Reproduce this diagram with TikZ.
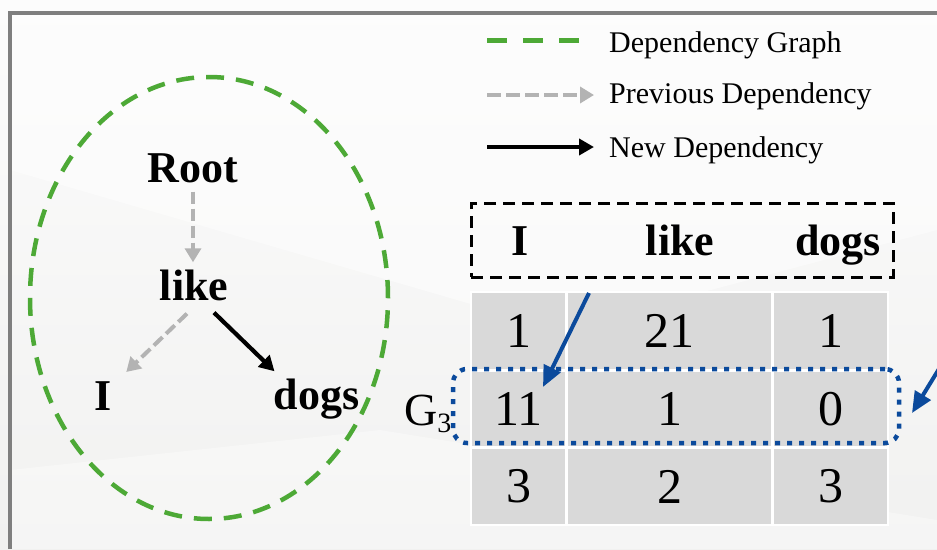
\documentclass[tikz,border=0pt]{standalone}
\usepackage{fontspec}
\setmainfont{Liberation Serif}
\usetikzlibrary{arrows.meta}

\definecolor{dgreen}{HTML}{4DA936}
\definecolor{pgray}{HTML}{B3B3B3}
\definecolor{cellgray}{HTML}{D9D9D9}
\definecolor{dblue}{HTML}{0B4A9C}
\definecolor{framegray}{HTML}{7F7F7F}
\definecolor{bgtop}{HTML}{FCFCFC}
\definecolor{bgbot}{HTML}{F1F1F0}

\begin{document}
\begin{tikzpicture}[x=1pt,y=-1pt,
  word/.style={font=\fontsize{44}{44}\selectfont\bfseries, inner sep=0pt, anchor=base},
  legendtxt/.style={font=\fontsize{30}{30}\selectfont, inner sep=0pt, anchor=base west},
  prevdep/.style={pgray, line width=4pt, dash pattern=on 12pt off 5pt,
    -{Triangle[length=14pt,width=16pt]}},
  newdep/.style={black, line width=4.2pt, -{Triangle[length=15pt,width=16pt]}},
  graphline/.style={dgreen, line width=4.5pt, dash pattern=on 18pt off 12pt},
  cell/.style={rectangle, fill=cellgray, inner sep=0pt,
    font=\fontsize{50}{50}\selectfont},
  pointer/.style={dblue, line width=4pt, -{Triangle[length=21pt,width=18pt]}},
  hdrbox/.style={draw=black, line width=3pt, dash pattern=on 12pt off 7pt,
    minimum width=422pt, minimum height=74pt, inner sep=0pt},
  rowbox/.style={draw=dblue, line width=4.5pt, dash pattern=on 5pt off 7pt,
    rounded corners=14pt, minimum width=446pt, minimum height=74pt, inner sep=0pt},
]
\useasboundingbox (0,0) rectangle (937,549);
\begin{scope}
\clip (0,0) rectangle (937,549);

% background
\shade[top color=bgtop, bottom color=bgbot] (0,0) rectangle (937,549);
\fill[white, opacity=0.45] (10,13) -- (937,13) -- (937,230) -- (560,330) -- (10,170) -- cycle;
\fill[white, opacity=0.35] (10,470) -- (380,430) -- (937,520) -- (937,549) -- (10,549) -- cycle;

% frame
\draw[framegray, line width=4pt] (10,549) -- (10,13) -- (937,13);

% dependency graph
\draw[graphline] (209,298) ellipse [x radius=179pt, y radius=221pt];

\node[word] (root) at (193,182) {Root};
\node[word] (like) at (194,300) {like};
\node[word] (wi)   at (103.5,410) {I};
\node[word] (dogs) at (316.5,409) {dogs};

\draw[prevdep] ([shift={(0,9)}]root.south) -- ([shift={(0,-7)}]root.south |- like.north);
\draw[prevdep] ([shift={(-7,13)}]like.south) -- ([shift={(14,-9)}]wi.north east);
\draw[newdep]  ([shift={(20,12)}]like.south) -- ([shift={(1,-7)}]dogs.north west);

% legend
\node[legendtxt] (lt1) at (609,52)  {Dependency Graph};
\node[legendtxt] (lt2) at (609,103) {Previous Dependency};
\node[legendtxt] (lt3) at (609,157) {New Dependency};
\coordinate (l1a) at (487,40);  \coordinate (l1b) at (580,40);
\coordinate (l2a) at (487,95);  \coordinate (l2b) at (594,95);
\coordinate (l3a) at (487,147); \coordinate (l3b) at (594,147);
\draw[dgreen, line width=5pt, dash pattern=on 20pt off 16pt] (l1a) -- (l1b);
\draw[prevdep, dash pattern=on 14pt off 5pt] (l2a) -- (l2b);
\draw[newdep] (l3a) -- (l3b);

% sentence header
\node[hdrbox] (hdr) at (682,240) {};
\node[word] (hI)    at (520.5,255) {I};
\node[word] (hlike) at (680,255) {like};
\node[word] (hdogs) at (838,255) {dogs};

% table
\fill[white] (470,291) rectangle (889,526);
\foreach \r/\y/\h/\a/\b/\c in {1/331/76/1/21/1, 2/409/74/11/1/0, 3/486.5/75/3/2/3}{
  \node[cell, minimum width=93pt,  minimum height=\h pt] (c\r1) at (518.5,\y) {\a};
  \node[cell, minimum width=203pt, minimum height=\h pt] (c\r2) at (669.5,\y) {\b};
  \node[cell, minimum width=113pt, minimum height=\h pt] (c\r3) at (830.5,\y) {\c};
}

% highlighted row
\node[font=\fontsize{46}{46}\selectfont, inner sep=0pt, anchor=base west] (g3) at (404,425)
  {G\raisebox{-7pt}{\fontsize{28}{28}\selectfont 3}};
\node[rowbox] (rowg) at (676,406) {};

% pointers
\coordinate (p1s) at (589,293); \coordinate (p1e) at (543,387);
\coordinate (p2s) at (953,346); \coordinate (p2e) at (912,413);
\draw[pointer] (p1s) -- (p1e);
\draw[pointer] (p2s) -- (p2e);
\end{scope}
\end{tikzpicture}
\end{document}
